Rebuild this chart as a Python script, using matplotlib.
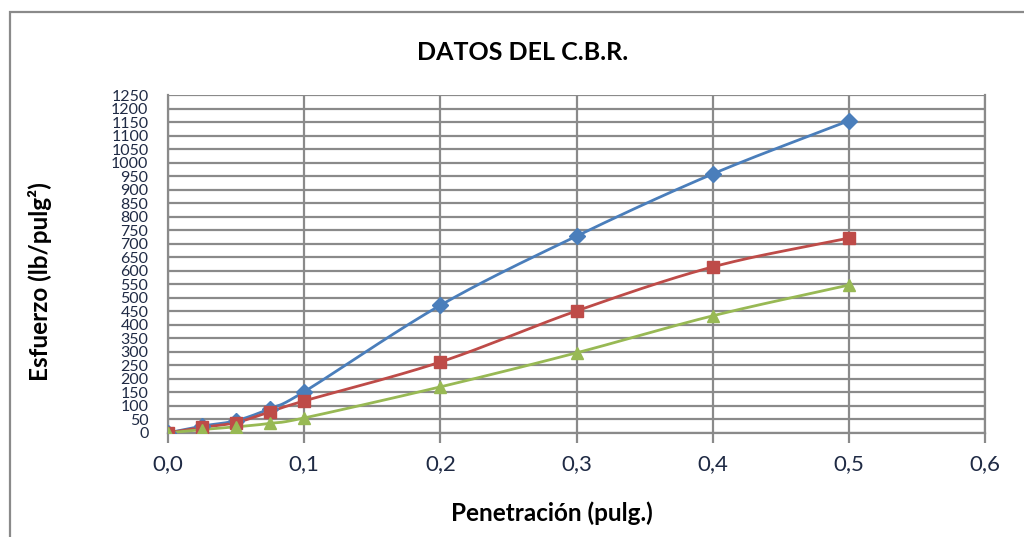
import numpy as np
import matplotlib
matplotlib.use("Agg")
import matplotlib.pyplot as plt
from matplotlib.patches import Rectangle

plt.rcParams['font.family'] = ['Lato', 'DejaVu Sans']

penetracion = [0.0, 0.025, 0.05, 0.075, 0.1, 0.2, 0.3, 0.4, 0.5]
esfuerzo_1 = [0, 25, 45, 90, 152, 472, 728, 958, 1155]
esfuerzo_2 = [0, 20, 38, 78, 118, 262, 451, 614, 721]
esfuerzo_3 = [0, 12, 22, 35, 55, 170, 296, 433, 547]

y_ticks = list(range(0, 1251, 50))
x_ticks = [0.0, 0.1, 0.2, 0.3, 0.4, 0.5, 0.6]
x_labels = ["0,0", "0,1", "0,2", "0,3", "0,4", "0,5", "0,6"]


def suavizar(x, y, n=20):
    # Catmull-Rom curve through the points, like a smoothed line in a spreadsheet
    x = np.asarray(x, float)
    y = np.asarray(y, float)
    px = np.concatenate([[2 * x[0] - x[1]], x, [2 * x[-1] - x[-2]]])
    py = np.concatenate([[2 * y[0] - y[1]], y, [2 * y[-1] - y[-2]]])
    xs, ys = [], []
    t = np.linspace(0, 1, n)
    for i in range(1, len(px) - 2):
        for p, out in ((px, xs), (py, ys)):
            p0, p1, p2, p3 = p[i - 1], p[i], p[i + 1], p[i + 2]
            out.extend(0.5 * (2 * p1 + (-p0 + p2) * t
                              + (2 * p0 - 5 * p1 + 4 * p2 - p3) * t ** 2
                              + (-p0 + 3 * p1 - 3 * p2 + p3) * t ** 3))
    return xs, ys


fig = plt.figure(figsize=(10.24, 5.37), dpi=100)
ax = fig.add_axes([0.164, 0.194, 0.798, 0.629])

series = [
    (esfuerzo_1, "#4a7ebb", "D", 8),
    (esfuerzo_2, "#be4b48", "s", 9),
    (esfuerzo_3, "#98b954", "^", 9),
]
for valores, color, marker, ms in series:
    xs, ys = suavizar(penetracion, valores)
    ax.plot(xs, ys, color=color, lw=2, zorder=3)
    ax.plot(penetracion, valores, ls="none", marker=marker, ms=ms,
            color=color, zorder=4)

ax.set_xlim(0, 0.6)
ax.set_ylim(0, 1250)
ax.set_yticks(y_ticks)
ax.set_yticklabels([str(v) for v in y_ticks], fontsize=11.5, color="#1f2a44")
ax.set_xticks(x_ticks)
ax.set_xticklabels(x_labels, fontsize=16, color="#1f2a44")
ax.tick_params(axis="y", length=0, pad=14)
ax.tick_params(axis="x", length=7, width=1.6, color="#8a8a8a", pad=8)

ax.grid(True, color="#8a8a8a", lw=1.6)
ax.set_axisbelow(True)
for side in ("left", "bottom", "right", "top"):
    ax.spines[side].set_color("#8a8a8a")
    ax.spines[side].set_linewidth(1.6)
ax.spines["top"].set_visible(False)

fig.text(523 / 1024, 1 - 52 / 537, "DATOS DEL C.B.R.", fontsize=18,
         fontweight="bold", ha="center", va="center")
fig.text(552 / 1024, 1 - 513 / 537, "Penetración (pulg.)", fontsize=17.5,
         fontweight="bold", ha="center", va="center")
fig.text(40 / 1024, 1 - 282 / 537, "Esfuerzo (lb/pulg²)", fontsize=17.5,
         fontweight="bold", ha="center", va="center", rotation=90)

# chart border
fig.patches.append(Rectangle((10 / 1024, -0.05), 1.2, 1 - 12 / 537 + 0.05,
                             transform=fig.transFigure, fill=False,
                             edgecolor="#8a8a8a", lw=1.6))

fig.savefig("out.png", dpi=100)
